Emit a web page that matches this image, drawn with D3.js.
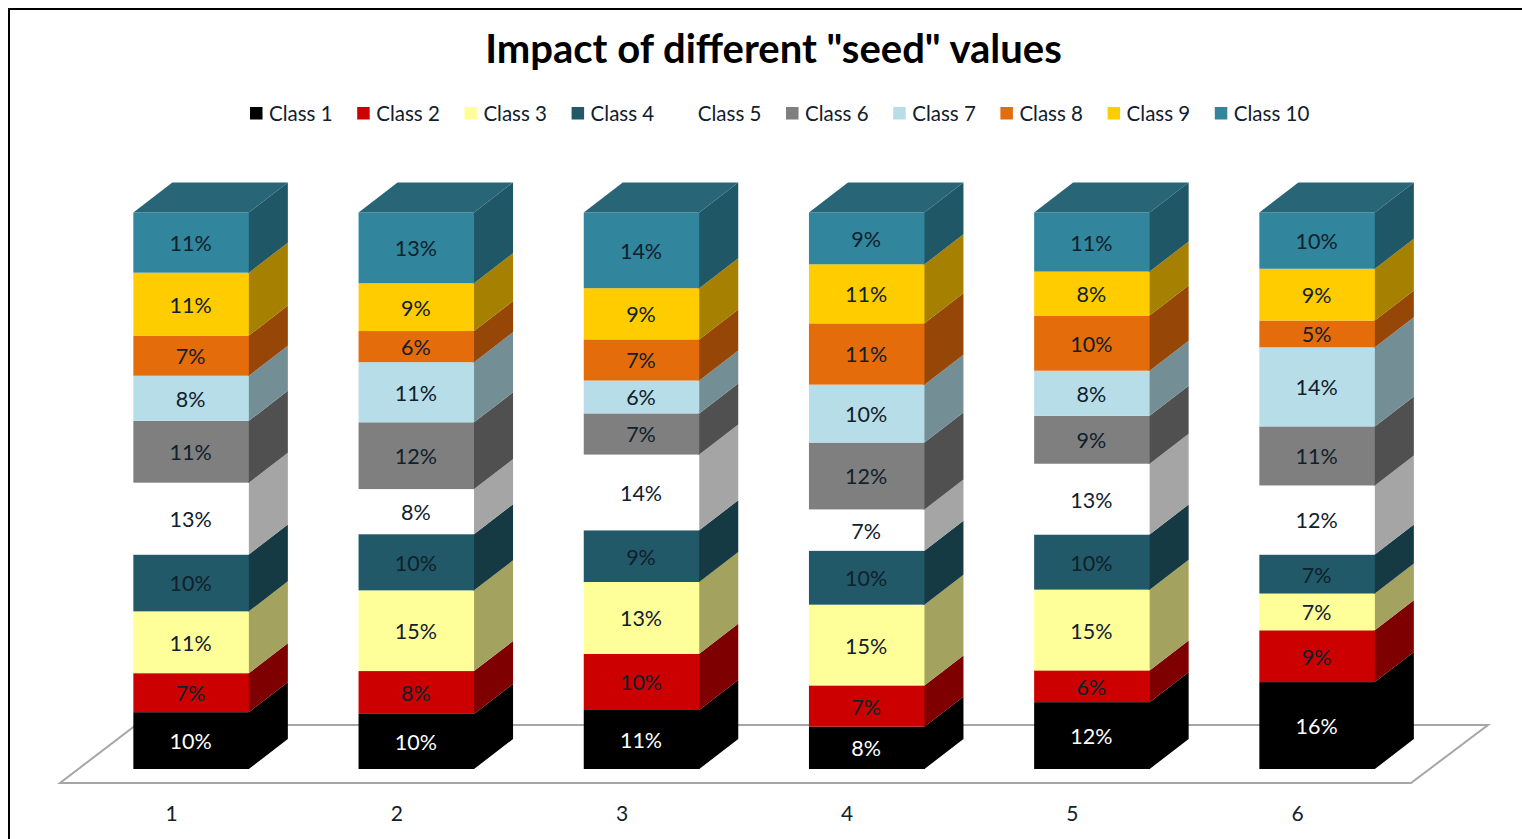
<!DOCTYPE html>
<html lang="en">
<head>
    <meta charset="UTF-8">
    <title>Impact of different "seed" values</title>
    <style>
        html, body { margin: 0; padding: 0; background: #fff; overflow: hidden; }
        svg { display: block; }
        text { font-family: Lato, "Open Sans", sans-serif; }
    </style>
</head>
<body>
    <div id="graphic"></div>

    <script src="https://cdn.jsdelivr.net/npm/d3@7"></script>
    <script>
        var runs = ['1', '2', '3', '4', '5', '6'];
        var classes = ['Class 1', 'Class 2', 'Class 3', 'Class 4', 'Class 5', 'Class 6', 'Class 7', 'Class 8', 'Class 9', 'Class 10'];

        // share of each class in a run, bottom to top
        var run1 = [10.2, 7.0, 11.1, 10.2, 12.9, 11.1, 8.1, 7.2, 11.3, 10.8];
        var run2 = [9.9, 7.7, 14.5, 10.1, 8.1, 12.0, 10.8, 5.6, 8.6, 12.7];
        var run3 = [10.6, 10.1, 12.9, 9.3, 13.6, 7.4, 5.9, 7.4, 9.2, 13.6];
        var run4 = [7.6, 7.4, 14.5, 9.7, 7.4, 12.0, 10.4, 11.0, 10.6, 9.3];
        var run5 = [12.0, 5.7, 14.5, 9.9, 12.7, 8.6, 8.1, 9.9, 7.9, 10.6];
        var run6 = [15.6, 9.3, 6.6, 7.0, 12.4, 10.6, 14.2, 4.8, 9.3, 10.1];
        var allRuns = [run1, run2, run3, run4, run5, run6];

        var frontColors = ['#000000', '#cc0000', '#ffff99', '#215968', '#ffffff', '#7f7f7f', '#b7dee8', '#e46c0a', '#ffcc00', '#31859c'];
        var sideColors = ['#000000', '#7f0000', '#a3a35f', '#153a44', '#a5a5a5', '#505050', '#748e95', '#964708', '#a68000', '#205766'];
        var topColor = '#286577';

        var width = 1522;
        var height = 839;
        var depthX = 39;
        var depthY = 30;

        var svg = d3.select('#graphic')
            .append('svg')
            .attr('width', width)
            .attr('height', height);

        // one row per run, keyed by class, for the stack layout
        var table = runs.map(function(r, i) {
            var row = { run: r };
            classes.forEach(function(c, j) { row[c] = allRuns[i][j]; });
            return row;
        });

        var stack = d3.stack().keys(classes).offset(d3.stackOffsetExpand);
        var series = stack(table);

        var x = d3.scaleBand().domain(runs).range([133.5 - 55, 133.5 - 55 + 225.2 * 6]).paddingInner(0);
        var barWidth = 115.5;
        function barLeft(run) { return x(run) + (x.bandwidth() - barWidth) / 2; }
        var y = d3.scaleLinear().domain([0, 1]).range([769, 212.5]);

        // outer frame, open on the right and at the bottom
        svg.append('path')
            .attr('d', 'M9,' + height + 'V9H' + width)
            .attr('fill', 'none')
            .attr('stroke', '#000')
            .attr('stroke-width', 2);

        // floor
        svg.append('path')
            .attr('d', 'M60,783H1411L1488,725H136Z')
            .attr('fill', '#fff')
            .attr('stroke', '#a6a6a6')
            .attr('stroke-width', 2);

        // bars
        var layers = svg.selectAll('.layer')
            .data(series)
            .join('g')
            .attr('class', 'layer');

        // side faces start 1px under the front so no light seam shows at the edge
        layers.selectAll('.side')
            .data(function(d) { return d; })
            .join('path')
            .attr('class', 'side')
            .attr('fill', function(d, i, nodes) { return sideColors[d3.select(nodes[i].parentNode).datum().index]; })
            .attr('d', function(d) {
                var right = barLeft(d.data.run) + barWidth;
                return 'M' + (right - 1) + ',' + y(d[0]) +
                    'H' + right +
                    'L' + (right + depthX) + ',' + (y(d[0]) - depthY) +
                    'L' + (right + depthX) + ',' + (y(d[1]) - depthY) +
                    'L' + right + ',' + y(d[1]) +
                    'H' + (right - 1) + 'Z';
            });

        layers.selectAll('.front')
            .data(function(d) { return d; })
            .join('rect')
            .attr('class', 'front')
            .attr('x', function(d) { return barLeft(d.data.run); })
            .attr('y', function(d) { return y(d[1]); })
            .attr('width', barWidth)
            .attr('height', function(d) { return y(d[0]) - y(d[1]); })
            .attr('fill', function(d, i, nodes) { return frontColors[d3.select(nodes[i].parentNode).datum().index]; });

        // lid on top of each stack
        svg.selectAll('.lid')
            .data(runs)
            .join('path')
            .attr('class', 'lid')
            .attr('fill', topColor)
            .attr('d', function(d) {
                var left = barLeft(d);
                return 'M' + left + ',' + y(1) +
                    'L' + (left + depthX) + ',' + (y(1) - depthY) +
                    'H' + (left + barWidth + depthX) +
                    'L' + (left + barWidth) + ',' + y(1) + 'Z';
            });

        // value labels
        layers.selectAll('.value')
            .data(function(d) { return d; })
            .join('text')
            .attr('class', 'value')
            .attr('x', function(d) { return barLeft(d.data.run) + barWidth / 2 - 0.5; })
            .attr('y', function(d) { return (y(d[0]) + y(d[1])) / 2 + 8.5; })
            .attr('text-anchor', 'middle')
            .attr('font-size', 21.5)
            .attr('fill', function(d, i, nodes) { return d3.select(nodes[i].parentNode).datum().index === 0 ? '#fff' : '#10202c'; })
            .text(function(d, i, nodes) {
                var key = d3.select(nodes[i].parentNode).datum().key;
                return Math.round(d.data[key]) + '%';
            });

        // category axis, ticks sit half a depth left of the bar centre
        var axis = d3.axisBottom(x).tickSize(0).tickPadding(0);
        var axisG = svg.append('g')
            .attr('transform', 'translate(' + (-depthX / 2) + ',806)')
            .call(axis);
        axisG.select('.domain').remove();
        axisG.selectAll('text')
            .attr('font-size', 21)
            .attr('fill', '#10202c')
            .attr('font-family', 'Lato, "Open Sans", sans-serif');

        // title
        svg.append('text')
            .attr('x', 773.5)
            .attr('y', 63)
            .attr('text-anchor', 'middle')
            .attr('font-size', 40)
            .attr('font-weight', 700)
            .attr('fill', '#000')
            .text('Impact of different "seed" values');

        // legend
        var legendX = d3.scalePoint().domain(classes).range([250, 1214.8]);
        var legend = svg.selectAll('.legend')
            .data(classes)
            .join('g')
            .attr('class', 'legend')
            .attr('transform', function(d) { return 'translate(' + legendX(d) + ',107)'; });
        legend.append('rect')
            .attr('width', 12.5)
            .attr('height', 12.5)
            .attr('fill', function(d, i) { return frontColors[i]; });
        legend.append('text')
            .attr('x', 19)
            .attr('y', 14)
            .attr('font-size', 20.5)
            .attr('fill', '#10202c')
            .text(function(d) { return d; });
    </script>
</body>
</html>
